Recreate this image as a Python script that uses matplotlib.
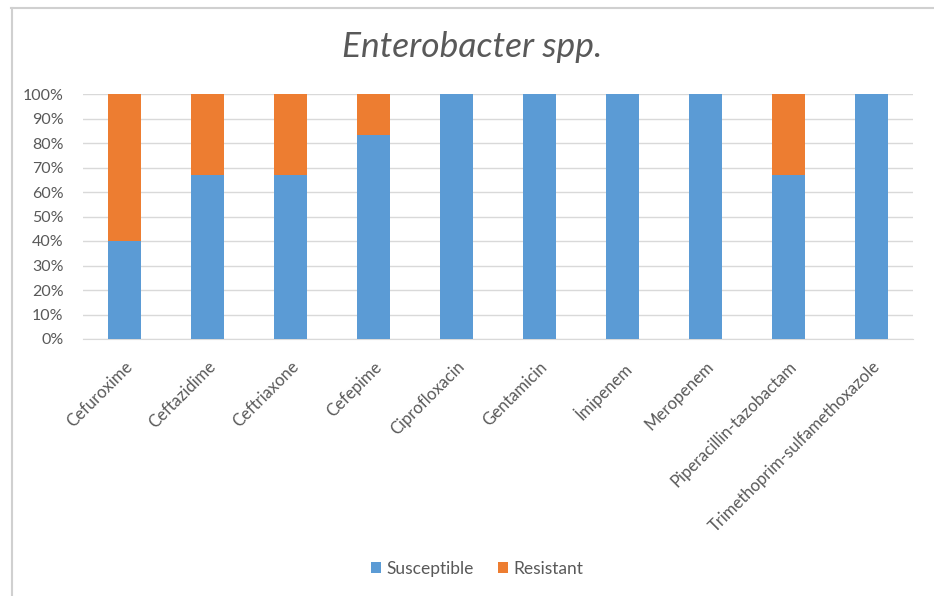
import matplotlib
matplotlib.use("Agg")
import matplotlib.pyplot as plt
from matplotlib.lines import Line2D
from matplotlib.ticker import PercentFormatter

# Dati (% sul totale degli isolati)
farmaci = ["Cefuroxime", "Ceftazidime", "Ceftriaxone", "Cefepime", "Ciprofloxacin",
           "Gentamicin", "İmipenem", "Meropenem", "Piperacillin-tazobactam",
           "Trimethoprim-sulfamethoxazole"]
sensibili = [40, 67, 67, 83.3, 100, 100, 100, 100, 67, 100]
resistenti = [60, 33, 33, 16.7, 0, 0, 0, 0, 33, 0]

BLU = "#5B9BD5"
ARANCIO = "#ED7D31"
GRIGIO_TESTO = "#595959"

plt.rcParams["font.family"] = ["Lato", "DejaVu Sans"]

W, H = 934, 596
fig = plt.figure(figsize=(W / 100, H / 100), dpi=100)
ax = fig.add_axes([83 / W, 1 - 339 / H, 830 / W, 245 / H])

x = range(len(farmaci))
ax.bar(x, sensibili, width=0.4, color=BLU, label="Susceptible", zorder=3)
ax.bar(x, resistenti, width=0.4, bottom=sensibili, color=ARANCIO,
       label="Resistant", zorder=3)

ax.set_xlim(-0.5, len(farmaci) - 0.5)
ax.set_ylim(0, 100)
ax.set_yticks(range(0, 101, 10))
ax.yaxis.set_major_formatter(PercentFormatter(decimals=0))
ax.grid(axis="y", color="#D9D9D9", linewidth=1, zorder=0)
for s in ("top", "right", "left"):
    ax.spines[s].set_visible(False)
ax.spines["bottom"].set_color("#D9D9D9")
ax.tick_params(axis="both", length=0, labelcolor=GRIGIO_TESTO)
ax.tick_params(axis="y", pad=14, labelsize=11.5)
ax.set_xticks(list(x))
ax.set_xticklabels(farmaci, rotation=45, ha="right", rotation_mode="anchor")
ax.tick_params(axis="x", pad=14, labelsize=12)

fig.text(0.506, 1 - 47 / H, "Enterobacter spp.", ha="center", va="center",
         fontsize=25.5, style="italic", color=GRIGIO_TESTO)

# bordo del riquadro del grafico
fig.add_artist(Line2D([11 / W, 1], [1 - 7.5 / H] * 2, color="#D0D0D0", lw=1.5))
fig.add_artist(Line2D([11.5 / W] * 2, [0, 1 - 7.5 / H], color="#D0D0D0", lw=1.5))

handles, labels = ax.get_legend_handles_labels()
fig.legend(handles, labels, loc="center", bbox_to_anchor=(477 / W, 1 - 569 / H),
           ncol=2, frameon=False, fontsize=12.5, handlelength=0.6, handleheight=0.6,
           handletextpad=0.3, columnspacing=1.4, labelcolor=GRIGIO_TESTO)

fig.savefig("out.png", dpi=100)
